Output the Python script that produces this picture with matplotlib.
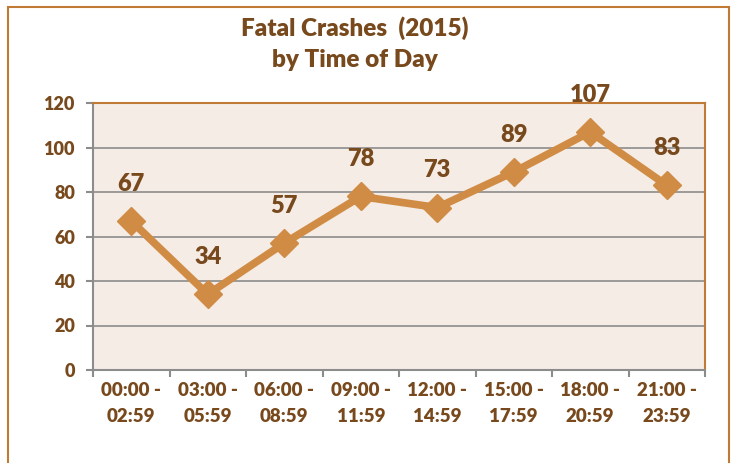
import matplotlib.pyplot as plt
from matplotlib.patches import Rectangle

# data
periods = ['00:00 -\n02:59', '03:00 -\n05:59', '06:00 -\n08:59', '09:00 -\n11:59',
           '12:00 -\n14:59', '15:00 -\n17:59', '18:00 -\n20:59', '21:00 -\n23:59']
crashes = [67, 34, 57, 78, 73, 89, 107, 83]

brown = '#77491C'
orange = '#D08C45'
frame = '#C07A35'
wt = 'heavy'

plt.rcParams['font.family'] = ['Lato', 'DejaVu Sans']

fig = plt.figure(figsize=(7.33, 4.63), dpi=100)
ax = fig.add_axes([93/733, 1 - 370/463, 612/733, 267/463])

# outer frame of the chart
fig.patches.append(Rectangle((8/733, -0.05), 721/733, 1 - 7/463 + 0.05,
                             transform=fig.transFigure, fill=False,
                             edgecolor=frame, linewidth=1.5))

x = list(range(len(crashes)))
ax.plot(x, crashes, color=orange, linewidth=5.5, marker='D', markersize=14,
        zorder=3)
for xi, v in zip(x, crashes):
    ax.annotate(str(v), (xi, v), xytext=(0, 19), textcoords='offset points',
                ha='center', va='bottom', fontsize=17, fontweight=wt,
                color=brown, annotation_clip=False)

ax.set_facecolor('#F5ECE6')
ax.set_xlim(-0.5, 7.5)
ax.set_ylim(0, 120)
ax.set_yticks(range(0, 121, 20))
ax.set_xticks([i + 0.5 for i in x[:-1]] + [-0.5, 7.5], minor=False)
ax.set_xticklabels([])
ax.set_xticks(x, minor=True)
ax.set_xticklabels(periods, minor=True, linespacing=1.6)
ax.tick_params(axis='x', which='major', length=5, color='#8C8C8C', width=1.5)
ax.tick_params(axis='x', which='minor', length=0, pad=9,
               labelsize=13.5, labelcolor=brown)
for lab in ax.get_xticklabels(minor=True):
    lab.set_fontweight(wt)
ax.tick_params(axis='y', length=5, color='#8C8C8C', width=1.5,
               labelsize=13, labelcolor=brown, pad=8)
for lab in ax.get_yticklabels():
    lab.set_fontweight(wt)

ax.grid(axis='y', color='#8C8C8C', linewidth=1.2)
ax.set_axisbelow(True)
ax.spines['left'].set_color('#8C8C8C')
ax.spines['bottom'].set_color('#8C8C8C')
ax.spines['left'].set_linewidth(1.5)
ax.spines['bottom'].set_linewidth(1.5)
ax.spines['top'].set_color(frame)
ax.spines['right'].set_color(frame)
ax.spines['top'].set_linewidth(1.5)
ax.spines['right'].set_linewidth(1.5)

fig.text(355/733, 1 - 28/463, 'Fatal Crashes  (2015)', ha='center', va='center',
         fontsize=17.5, fontweight=wt, color=brown)
fig.text(355/733, 1 - 60/463, 'by Time of Day', ha='center', va='center',
         fontsize=17.5, fontweight=wt, color=brown)

fig.savefig('out.png', dpi=100)
